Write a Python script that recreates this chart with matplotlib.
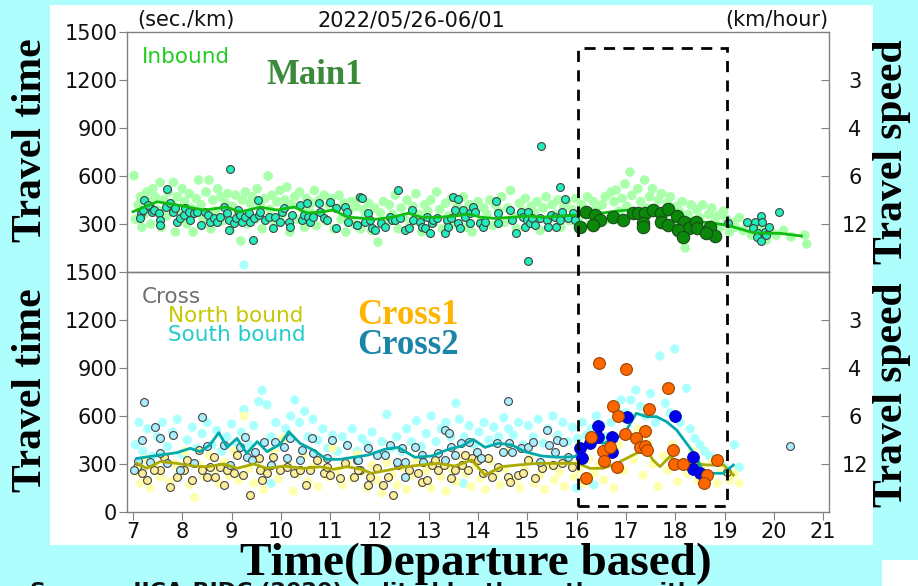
import matplotlib
matplotlib.use('Agg')
import matplotlib.pyplot as plt
from matplotlib.patches import Rectangle
import matplotlib.transforms as mtrans

# ---------------- data ----------------
hours = list(range(7, 22))
tt_ticks_top = [300, 600, 900, 1200, 1500]
tt_ticks_bot = [0, 300, 600, 900, 1200, 1500]
speed_pos = [1200, 900, 600, 300]
speed_lbl = ['3', '4', '6', '12']

# Main1 inbound - background (all probes)
main_bg_x = [7.02,7.05,7.10,7.15,7.18,7.22,7.28,7.32,7.36,7.40,7.45,7.50,7.55,7.58,7.62,7.68,7.72,7.78,7.82,7.86,7.90,7.95,8.00,8.05,8.10,8.14,8.18,8.22,8.28,8.33,8.38,8.42,8.48,8.54,8.58,8.62,8.68,8.72,8.78,8.82,8.88,8.92,8.98,9.02,9.08,9.12,9.19,9.22,9.28,9.32,9.38,9.42,9.48,9.52,9.58,9.62,9.68,9.74,9.78,9.82,9.88,9.92,9.98,10.03,10.08,10.12,10.18,10.22,10.28,10.32,10.38,10.42,10.48,10.52,10.58,10.62,10.68,10.72,10.78,10.82,10.88,10.92,10.98,11.02,11.08,11.12,11.18,11.22,11.28,11.32,11.38,11.42,11.48,11.52,11.58,11.62,11.68,11.72,11.78,11.84,11.90,11.97,12.02,12.08,12.14,12.20,12.26,12.32,12.38,12.44,12.50,12.56,12.62,12.68,12.74,12.80,12.86,12.92,12.98,13.04,13.10,13.16,13.22,13.28,13.34,13.40,13.46,13.52,13.58,13.64,13.70,13.76,13.82,13.88,13.94,14.00,14.06,14.12,14.18,14.24,14.30,14.36,14.42,14.48,14.54,14.60,14.66,14.72,14.78,14.84,14.90,14.96,15.02,15.08,15.14,15.20,15.26,15.32,15.38,15.44,15.50,15.56,15.62,15.68,15.74,15.80,15.86,15.92,15.98,16.04,16.10,16.16,16.22,16.28,16.34,16.40,16.46,16.52,16.58,16.64,16.70,16.76,16.80,16.86,16.92,16.98,17.02,17.08,17.12,17.18,17.24,17.30,17.38,17.42,17.48,17.54,17.60,17.66,17.72,17.78,17.84,17.90,17.96,18.02,18.08,18.14,18.20,18.26,18.32,18.38,18.44,18.50,18.56,18.62,18.68,18.74,18.80,18.86,18.92,18.98,19.04,19.10,19.16,19.22,19.30,19.38,19.46,19.55,19.65,19.75,19.85,19.95,20.05,20.20,20.35,20.63,20.67]
main_bg_y = [602,330,420,470,280,360,500,440,300,520,470,390,560,280,450,350,500,430,560,250,470,380,520,440,300,490,400,250,460,575,420,330,500,575,270,450,380,520,470,320,430,490,260,410,480,350,194,450,500,300,430,470,330,520,420,270,460,600,390,480,300,440,510,360,450,531,250,420,470,330,500,400,280,460,380,430,510,290,450,370,480,320,420,460,270,400,480,330,430,250,380,440,300,410,460,270,390,350,430,260,400,187,370,440,300,420,360,480,270,400,340,450,290,410,490,360,250,420,380,450,310,500,390,270,430,350,460,300,410,370,470,280,420,250,390,440,320,400,360,450,290,420,380,470,310,400,510,350,270,430,380,460,300,410,370,440,260,400,470,330,420,360,450,280,400,440,320,390,460,340,420,380,470,300,440,400,350,420,470,330,500,440,512,380,460,550,410,625,480,360,520,440,575,400,470,520,380,450,490,350,430,470,300,410,380,440,150,360,420,300,390,340,420,270,360,400,310,350,280,380,330,250,310,280,340,260,300,230,280,260,200,250,230,260,220,231,175]
main_odd_x = [9.25]
main_odd_y = [44]

# Main1 inbound - matched probes (cyan)
main_pt_x = [7.23,7.16,7.14,7.20,7.35,7.39,7.30,7.42,7.52,7.55,7.54,7.66,7.69,7.76,7.81,7.86,7.89,7.96,8.03,8.06,8.13,8.16,8.23,8.30,8.37,8.47,8.53,8.57,8.64,8.70,8.77,8.84,8.91,8.94,8.94,8.97,9.04,9.08,9.14,9.18,9.21,9.28,9.35,9.38,9.43,9.45,9.53,9.55,9.58,9.68,9.75,9.85,9.89,9.99,10.02,10.06,10.16,10.19,10.22,10.39,10.43,10.46,10.52,10.56,10.60,10.66,10.77,10.80,10.87,10.93,11.00,11.12,11.12,11.31,11.34,11.37,11.54,11.61,
             11.64,11.54,11.71,11.77,11.81,11.84,11.91,12.04,12.11,12.21,12.25,12.31,12.37,12.42,12.52,12.59,12.67,12.69,12.82,12.86,12.92,12.96,13.02,13.06,13.09,13.16,13.33,13.36,13.40,13.46,13.50,13.53,13.60,13.60,13.63,13.70,13.73,13.84,13.84,13.90,13.94,14.04,14.11,14.14,14.37,14.41,14.41,14.65,14.68,14.77,14.88,14.92,14.95,14.99,15.02,15.05,15.09,15.15,15.26,15.27,15.01,15.39,15.42,15.49,15.56,15.59,15.66,15.67,15.70,15.76,15.83,15.93,15.97,
             19.07,19.46,19.62,19.75,19.77,19.58,19.68,19.82,19.65,19.75,19.90,19.85,20.10]
main_pt_y = [450,367,335,388,408,377,419,388,367,325,294,408,519,429,377,398,315,335,356,398,377,325,367,377,294,377,356,315,335,315,346,408,367,325,262,644,304,335,388,356,315,346,367,315,200,335,450,356,377,325,346,273,346,315,377,398,315,283,356,419,325,356,429,346,315,346,429,377,335,325,440,398,273,408,377,315,294,467,
             463,294,315,367,325,273,263,304,283,346,325,325,512,335,263,273,388,325,315,283,273,346,242,304,325,335,242,325,283,335,471,388,456,304,273,388,346,367,304,408,377,304,283,315,444,367,304,388,325,246,377,346,283,325,377,304,335,294,335,790,69,325,283,356,346,283,325,529,377,454,335,367,325,
             304,310,315,352,310,273,246,252,221,194,279,231,377]

# Main1 inbound - highlighted period 16-19
main_hl_x = [16.07,16.20,16.37,16.47,16.34,16.74,16.94,17.14,17.24,17.38,17.35,17.35,17.55,17.72,17.86,17.72,17.86,18.03,18.18,18.27,18.06,18.16,18.43,18.44,18.70,18.80,18.63]
main_hl_y = [283,377,356,325,294,346,325,367,371,371,304,283,387,367,392,315,294,350,315,273,262,217,315,273,283,225,242]

# Main1 smoothed line
main_ln_x = [7.00,7.49,7.90,8.44,8.90,9.17,9.58,9.92,10.27,10.53,10.80,11.07,11.34,11.60,11.91,12.25,12.58,12.86,13.19,13.53,13.80,14.07,14.34,14.68,15.02,15.29,15.70,16.03,16.47,16.88,17.28,17.69,18.10,18.50,19.04,19.58,19.85,20.12,20.56]
main_ln_y = [377,439,419,387,406,375,406,387,406,369,375,387,344,337,329,342,367,342,342,350,362,342,335,342,350,342,350,356,367,383,392,377,346,315,294,246,242,242,225]

# Cross - background probes
south_bg_x = [7.05,7.12,7.2,7.3,7.4,7.5,7.6,7.7,7.8,7.9,8.0,8.1,8.2,8.3,8.4,8.5,8.6,8.7,8.8,8.9,9.0,9.1,9.2,9.25,9.35,9.45,9.55,9.62,9.72,9.8,9.9,10.0,10.1,10.2,10.28,10.38,10.48,10.55,10.65,10.75,10.85,10.95,11.05,11.15,11.25,11.35,11.45,11.55,11.65,11.75,11.85,11.95,12.05,12.15,12.25,12.35,12.45,12.55,12.65,12.75,12.85,12.95,13.05,13.15,13.25,13.35,13.45,13.55,13.62,13.72,13.82,13.92,14.02,14.12,14.22,14.32,14.42,14.52,14.62,14.72,14.82,14.92,15.02,15.12,15.22,15.32,15.42,15.52,15.62,15.72,15.82,15.92,16.02,16.12,16.2,16.3,16.4,16.5,16.6,16.7,16.8,16.9,17.0,17.1,17.2,17.3,17.4,17.5,17.6,17.69,17.8,17.9,17.99,18.1,18.23,18.3,18.4,18.5,18.6,18.7,18.8,18.9,19.0,19.2,19.3,7.15,8.6,9.8,13.7,16.0,16.35]
south_bg_y = [420,560,380,520,350,470,560,410,500,580,360,450,530,400,490,560,420,510,380,470,550,430,500,640,420,540,690,760,670,470,560,420,520,600,700,560,630,470,580,450,520,400,480,380,470,420,520,380,460,420,500,360,440,610,400,470,380,520,440,570,410,490,600,440,520,560,470,680,580,470,540,420,500,560,450,530,470,590,520,480,560,420,540,470,580,430,520,600,480,560,440,530,460,560,480,520,600,540,470,560,640,700,620,700,762,660,600,740,560,975,680,620,1019,560,773,520,460,420,380,350,320,300,280,420,280,260,220,180,180,150,170]
north_bg_x = [7.05,7.15,7.25,7.35,7.45,7.55,7.65,7.75,7.85,7.95,8.05,8.15,8.25,8.35,8.45,8.55,8.65,8.75,8.85,8.95,9.05,9.15,9.25,9.35,9.45,9.55,9.65,9.75,9.85,9.95,10.05,10.15,10.25,10.35,10.45,10.55,10.65,10.75,10.85,10.95,11.05,11.15,11.25,11.35,11.45,11.55,11.65,11.75,11.85,11.95,12.05,12.15,12.25,12.35,12.45,12.55,12.65,12.75,12.85,12.95,13.05,13.15,13.25,13.35,13.45,13.55,13.65,13.75,13.85,13.95,14.05,14.15,14.25,14.35,14.45,14.55,14.65,14.75,14.85,14.95,15.05,15.15,15.25,15.35,15.45,15.55,15.65,15.75,15.85,15.95,16.05,16.15,16.25,16.35,16.45,16.55,16.65,16.75,16.85,16.95,17.05,17.15,17.25,17.35,17.45,17.55,17.65,17.75,17.85,17.95,18.05,18.15,18.25,18.35,18.45,18.55,18.65,18.75,18.85,18.95,19.1,19.2,19.3]
north_bg_y = [250,180,330,150,280,220,350,190,300,240,380,170,90,290,220,350,260,180,310,230,380,200,600,270,180,320,140,260,380,210,460,300,130,240,350,190,280,160,330,220,400,260,170,300,210,360,250,150,290,200,120,310,230,170,280,140,230,320,180,260,150,300,220,130,270,190,350,240,160,290,210,140,320,230,170,270,380,200,150,260,330,180,230,140,290,200,250,160,310,220,270,180,330,240,290,200,380,150,420,260,480,330,520,230,430,300,160,350,260,420,190,310,240,380,200,290,230,310,180,260,200,240,180]

# Cross - matched probes (outlined)
south_pt_x = [7.22,7.18,7.11,7.45,7.54,7.81,7.55,8.50,8.40,8.84,9.28,9.31,9.48,9.65,9.89,10.06,10.19,10.43,10.63,11.04,11.34,11.54,8.97,9.18,9.41,9.79,10.12,10.39,10.66,10.93,8.23,7.96,7.69,7.35,7.01,
              11.77,11.94,12.11,12.21,12.45,12.35,12.52,12.72,12.86,12.89,13.19,13.32,13.42,13.33,13.46,13.53,13.65,13.82,13.97,14.07,14.38,14.51,14.61,14.63,14.68,14.88,15.02,15.12,15.26,15.39,15.43,15.56,15.61,15.73,15.83,12.52,11.57,20.33]
south_pt_y = [685,450,321,529,460,481,367,413,596,419,471,346,377,440,440,408,460,388,460,450,419,325,294,408,325,294,335,325,367,335,304,263,304,315,263,
              398,356,356,419,398,315,315,404,356,315,371,513,496,325,404,356,429,440,377,335,429,377,696,433,377,398,408,440,315,513,419,377,450,440,346,221,325,412]
north_pt_x = [7.08,7.28,7.18,7.55,7.76,7.89,8.03,8.20,8.40,8.50,8.57,8.67,8.77,8.84,8.91,9.04,9.24,9.37,9.58,9.62,9.72,9.85,9.99,10.12,10.26,10.50,10.60,10.73,10.87,11.00,11.20,11.31,11.48,11.61,7.42,7.62,8.10,8.33,8.64,9.11,9.55,10.39,10.93,
              11.57,11.81,11.94,11.77,12.08,12.18,12.28,12.59,12.79,12.86,12.96,13.06,13.19,13.30,13.46,13.53,13.67,13.80,13.87,14.00,14.11,14.28,14.41,14.61,14.65,14.82,14.92,15.15,15.29,15.53,15.70,15.90,12.38,13.13,13.73,14.21,15.02,19.05]
north_pt_y = [283,200,242,263,158,221,263,200,263,221,283,221,283,169,263,242,231,106,263,200,242,346,263,283,242,169,263,325,242,231,210,304,221,263,263,346,325,388,346,356,335,263,283,
              263,221,273,169,169,221,106,263,242,190,200,294,263,294,210,263,294,263,335,325,242,221,283,221,190,231,242,210,273,294,304,283,294,325,356,335,325,250]

# Cross1 / Cross2 highlighted probes 16-19
cross1_x = [16.46,17.01,17.86,16.74,16.84,17.47,17.39,16.98,17.20,16.54,16.68,17.28,17.39,17.43,17.96,16.55,16.82,17.97,18.15,18.84,18.64,18.59,16.19,16.30]
cross1_y = [933,894,777,662,600,642,508,485,464,383,404,404,412,387,387,321,283,300,300,325,231,183,210,467]
cross2_x = [16.07,16.10,16.28,16.43,16.44,16.72,16.72,17.03,18.00,18.37,18.37,18.50]
cross2_y = [398,335,433,537,471,467,377,592,600,342,267,242]

# smoothed lines
south_ln_x = [7.08,7.28,7.55,7.89,8.16,8.36,8.56,8.74,8.91,9.11,9.31,9.52,9.72,9.99,10.16,10.39,10.66,10.93,11.20,11.47,11.77,12.11,12.38,12.72,13.06,13.40,13.67,13.90,14.14,14.41,14.68,14.95,15.29,15.63,15.97,16.27,16.54,16.81,17.01,17.21,17.42,17.62,17.82,18.03,18.23,18.43,18.57,18.77,18.98,19.18]
south_ln_y = [335,344,356,371,398,377,419,496,404,460,367,440,377,425,502,429,387,329,329,342,356,392,404,342,350,392,412,454,404,429,419,377,350,342,346,450,429,460,512,617,596,596,565,512,429,346,242,242,242,294]
north_ln_x = [7.08,7.28,7.55,7.89,8.23,8.50,8.84,9.11,9.45,9.72,10.06,10.46,10.79,11.07,11.34,11.64,11.84,12.18,12.52,12.86,13.19,13.53,13.87,14.14,14.48,14.82,15.22,15.63,16.03,16.27,16.54,16.81,17.01,17.21,17.42,17.55,17.69,17.89,18.10,18.37,18.64,18.98,19.18]
north_ln_y = [304,273,315,304,287,283,300,273,300,273,287,273,283,267,283,267,242,262,283,294,304,287,325,231,283,294,304,304,304,273,273,304,335,367,387,325,283,346,304,304,294,294,231]

highlight_span = [16.03, 19.05]

# ---------------- figure ----------------
W, H = 918, 586
fig = plt.figure(figsize=(W / 100, H / 100), dpi=100)
fig.patch.set_facecolor('#affefe')

def fx(px):
    return px / W

def fy(py):
    return 1 - py / H

fig.add_artist(Rectangle((fx(50), fy(545)), fx(873) - fx(50), fy(5) - fy(545),
                         transform=fig.transFigure, facecolor='white', edgecolor='none', zorder=0))
fig.add_artist(Rectangle((fx(882), fy(586)), fx(918) - fx(882), fy(560) - fy(586),
                         transform=fig.transFigure, facecolor='white', edgecolor='none', zorder=0))

ax1 = fig.add_axes([fx(127), fy(272), fx(829) - fx(127), fy(32) - fy(272)])
ax2 = fig.add_axes([fx(127), fy(512), fx(829) - fx(127), fy(272) - fy(512)])

sans = 'DejaVu Sans'
serif = 'Liberation Serif'
spine_c = '#808080'

for ax in (ax1, ax2):
    ax.set_xlim(6.878, 21.12)
    ax.set_ylim(0, 1500)
    ax.patch.set_alpha(0)
    for s in ax.spines.values():
        s.set_color(spine_c)
        s.set_linewidth(1.0)
    ax.tick_params(axis='y', direction='out', length=6, pad=1, color=spine_c,
                   labelsize=15, labelcolor='#111111')

ax1.set_xticks([])
ax1.set_yticks(tt_ticks_top)
ax1.set_yticklabels([str(v) for v in tt_ticks_top], family=sans)
ax2.set_yticks(tt_ticks_bot)
ax2.set_yticklabels([str(v) for v in tt_ticks_bot], family=sans)
ax2.set_xticks(hours)
ax2.set_xticklabels([str(h) for h in hours], family=sans)
ax2.tick_params(axis='x', direction='out', length=6, pad=1, color=spine_c,
                labelsize=15, labelcolor='#111111')

for ax in (ax1, ax2):
    axr = ax.twinx()
    axr.set_ylim(0, 1500)
    axr.set_yticks(speed_pos)
    axr.set_yticklabels(speed_lbl, family=sans)
    axr.tick_params(axis='y', direction='in', length=6, pad=18.5, color=spine_c,
                    labelsize=15, labelcolor='#111111')
    for lbl in axr.get_yticklabels():
        lbl.set_horizontalalignment('center')
    for s in axr.spines.values():
        s.set_visible(False)

# top panel
ax1.scatter(main_bg_x, main_bg_y, s=48, color='#aaffaa', edgecolors='none', zorder=1)
ax1.scatter(main_odd_x, main_odd_y, s=44, color='#aaffff', edgecolors='none', zorder=1)
ax1.scatter(main_pt_x, main_pt_y, s=32, color='#22eebb', edgecolors='#404040', linewidths=0.8, zorder=3)
ax1.plot(main_ln_x, main_ln_y, color='#11bb11', lw=2.0, zorder=4)
ax1.scatter(main_hl_x, main_hl_y, s=80, color='#0a880a', edgecolors='#1a4a1a', linewidths=0.8, zorder=5)

# bottom panel
ax2.scatter(south_bg_x, south_bg_y, s=44, color='#aaffff', edgecolors='none', zorder=1)
ax2.scatter(north_bg_x, north_bg_y, s=44, color='#ffffb0', edgecolors='none', zorder=1)
ax2.scatter(north_pt_x, north_pt_y, s=32, color='#ffee99', edgecolors='#444444', linewidths=0.8, zorder=3)
ax2.scatter(south_pt_x, south_pt_y, s=32, color='#aaeeff', edgecolors='#444444', linewidths=0.8, zorder=3)
ax2.plot(north_ln_x, north_ln_y, color='#aaaa00', lw=2.0, zorder=4)
ax2.plot(south_ln_x, south_ln_y, color='#00aaaa', lw=2.0, zorder=4)
ax2.scatter(cross2_x, cross2_y, s=72, color='#0000ee', edgecolors='#0000aa', linewidths=0.6, zorder=5)
ax2.scatter(cross1_x, cross1_y, s=72, color='#ff6600', edgecolors='#994400', linewidths=0.8, zorder=6)

# dashed highlight box across both panels
btr = mtrans.blended_transform_factory(ax1.transData, fig.transFigure)
rect = Rectangle((highlight_span[0], fy(506)), highlight_span[1] - highlight_span[0], fy(48) - fy(506),
                 transform=btr, fill=False, edgecolor='black', lw=2.0,
                 linestyle=(0, (4, 3)), zorder=10)
fig.add_artist(rect)

# texts
fig.text(fx(137), fy(20), '(sec./km)', family=sans, fontsize=15, va='center', ha='left', color='#111111')
fig.text(fx(411), fy(20), '2022/05/26-06/01', family=sans, fontsize=15, va='center', ha='center', color='#111111')
fig.text(fx(828), fy(20), '(km/hour)', family=sans, fontsize=15, va='center', ha='right', color='#111111')

fig.text(fx(142), fy(57), 'Inbound', family=sans, fontsize=15.5, va='center', ha='left', color='#22cc22')
fig.text(fx(266), fy(75), 'Main1', family=serif, fontweight='bold', fontsize=25, va='center', ha='left', color='#3a8a3a')
fig.text(fx(142), fy(297), 'Cross', family=sans, fontsize=15.5, va='center', ha='left', color='#707070')
fig.text(fx(168), fy(316), 'North bound', family=sans, fontsize=15.5, va='center', ha='left', color='#c8c800')
fig.text(fx(168), fy(335), 'South bound', family=sans, fontsize=15.5, va='center', ha='left', color='#22cccc')
fig.text(fx(357), fy(315), 'Cross1', family=serif, fontweight='bold', fontsize=25, va='center', ha='left', color='#ffb400')
fig.text(fx(357), fy(345), 'Cross2', family=serif, fontweight='bold', fontsize=25, va='center', ha='left', color='#1a85a8')

for yc in (140, 390):
    fig.text(fx(31), fy(yc), 'Travel time', family=serif, fontweight='bold', fontsize=30,
             rotation=90, va='center', ha='center', color='black')
for yc in (152, 395):
    fig.text(fx(892), fy(yc), 'Travel speed', family=serif, fontweight='bold', fontsize=30,
             rotation=90, va='center', ha='center', color='black')

fig.text(fx(476), fy(575), 'Time(Departure based)', family=serif, fontweight='bold', fontsize=34,
         va='baseline', ha='center', color='black')
fig.text(fx(30), fy(598), 'Source: JICA-RIDC (2020), edited by the authors with', family=sans,
         fontweight='bold', fontsize=16, va='baseline', ha='left', color='#111111')

fig.savefig('out.png', dpi=100, facecolor=fig.get_facecolor())
